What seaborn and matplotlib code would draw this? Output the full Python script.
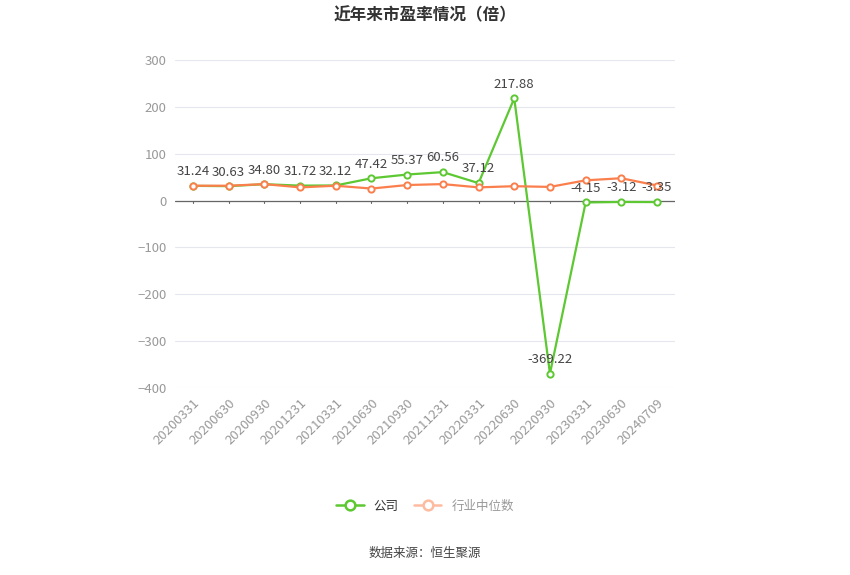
import matplotlib.pyplot as plt
import seaborn as sns
import pandas as pd

dates = ['20200331', '20200630', '20200930', '20201231', '20210331', '20210630', '20210930',
         '20211231', '20220331', '20220630', '20220930', '20230331', '20230630', '20240709']
company = [31.24, 30.63, 34.80, 31.72, 32.12, 47.42, 55.37, 60.56, 37.12, 217.88,
           -369.22, -4.15, -3.12, -3.35]
industry = [31.5, 31.5, 35.0, 28.0, 31.5, 25.5, 33.0, 35.0, 28.0, 30.5, 29.0, 43.0, 47.5, 32.0]

green = '#5dc832'
orange = '#fb7f4d'

df = pd.DataFrame({'date': dates, 'company': company, 'industry': industry})

sns.set_style('white')
plt.rcParams['font.family'] = ['Noto Sans CJK SC', 'DejaVu Sans']

fig = plt.figure(figsize=(8.5, 5.75), dpi=100)
ax = fig.add_axes([0.206, 0.325, 0.588, 0.571])

for col, c in [('company', green), ('industry', orange)]:
    sns.lineplot(data=df, x='date', y=col, color=c, marker='o', markersize=4.5,
                 markerfacecolor='white', markeredgecolor=c, markeredgewidth=1.4,
                 linewidth=1.6, ax=ax, sort=False)

for i, v in enumerate(company):
    ax.annotate(f'{v:.2f}', (i, v), xytext=(0, 5.5), textcoords='offset points',
                ha='center', va='bottom', fontsize=9.5, color='#444444')

ax.set_xlim(-0.5, len(dates) - 0.5)
ax.set_ylim(-400, 300)
ax.set_yticks(range(-400, 301, 100))
ax.grid(axis='y', color='#e6e6ee', linewidth=0.8)
ax.set_axisbelow(True)
for s in ax.spines.values():
    s.set_visible(False)
ax.axhline(0, color='#666666', linewidth=0.9, zorder=1)
for i in range(len(dates)):
    ax.plot([i, i], [0, -5], color='#666666', linewidth=0.8, zorder=1)
ax.tick_params(axis='both', length=0, labelsize=9.5, colors='#999999', pad=6)
plt.setp(ax.get_xticklabels(), rotation=45, ha='right', rotation_mode='anchor')
ax.set_xlabel('')
ax.set_ylabel('')

fig.text(0.5, 0.974, '近年来市盈率情况（倍）', ha='center', va='center', fontsize=12,
         fontweight='bold', color='#333333')

h1, = ax.plot([], [], color=green, marker='o', markersize=7, markerfacecolor='white',
              markeredgewidth=1.8, linewidth=1.8)
h2, = ax.plot([], [], color='#fdbba0', marker='o', markersize=7, markerfacecolor='white',
              markeredgewidth=1.8, linewidth=1.8)
leg = fig.legend([h1, h2], ['公司', '行业中位数'], loc='center', bbox_to_anchor=(0.5, 0.12),
                 ncol=2, frameon=False, fontsize=9, handlelength=2.2, columnspacing=1.2)
leg.get_texts()[0].set_color('#333333')
leg.get_texts()[1].set_color('#999999')

fig.text(0.5, 0.038, '数据来源：恒生聚源', ha='center', va='center', fontsize=9, color='#444444')

fig.savefig('out.png', dpi=100)
